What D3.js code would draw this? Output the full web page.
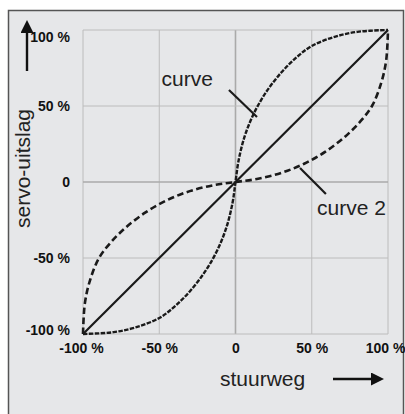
<!DOCTYPE html>
<meta charset="utf-8">
<style>
  body { margin: 0; background: #fff; }
  svg { display: block; font-family: "Liberation Sans", Arial, sans-serif; }
  .tick text { font-family: "Liberation Sans Narrow", "Liberation Sans", Arial, sans-serif; font-weight: bold; font-size: 14px; fill: #111; }
</style>
<svg width="405" height="414"></svg>
<script src="https://cdnjs.cloudflare.com/ajax/libs/d3/7.8.5/d3.min.js"></script>
<script>
// values (stuurweg %, servo-uitslag %)
var ticks = [-100, -50, 0, 50, 100];
var tickLabels = ["-100 %", "-50 %", "0", "50 %", "100 %"];
var linearX = [-100, 100];
var linearY = [-100, 100];
var curveX = [-100, -80, -65, -50, -40, -30, -20, -12, -6, -2, 0, 2, 6, 12, 20, 30, 40, 50, 65, 80, 100];
var curveY = [-100, -98.8, -95.5, -89.5, -82, -72, -59, -45, -30, -14, 0, 14, 30, 45, 59, 72, 82, 89.5, 95.5, 98.8, 100];
// curve 2 is the mirror image of curve
var curve2X = curveY.slice();
var curve2Y = curveX.slice();
var labels = ["curve", "curve 2"];
var labelPos = [[-48.5, 63], [53.5, -22]];
var pointers = [[[-4.3, 60.5], [14.1, 42.8]], [[42.3, 9.2], [59.3, -7.9]]];

var svg = d3.select("svg");

var x = d3.scaleLinear().domain([-100, 100]).range([83, 388]);
var y = d3.scaleLinear().domain([-100, 100]).range([334, 30]);

// panel
svg.append("rect")
    .attr("x", 8.5).attr("y", 10.5)
    .attr("width", 395).attr("height", 420)
    .attr("fill", "#e6e7e9")
    .attr("stroke", "#555").attr("stroke-width", 1.5);

var defs = svg.append("defs");
defs.append("marker")
    .attr("id", "head")
    .attr("viewBox", "0 0 10 10")
    .attr("refX", 0).attr("refY", 5)
    .attr("markerWidth", 18).attr("markerHeight", 13)
    .attr("markerUnits", "userSpaceOnUse")
    .attr("orient", "auto")
  .append("path")
    .attr("d", "M0,0L10,5L0,10Z")
    .attr("fill", "#111");

// grid
svg.append("g").selectAll("line")
  .data(ticks)
  .enter().append("line")
    .attr("x1", function(d) { return x(d); })
    .attr("x2", function(d) { return x(d); })
    .attr("y1", y(-100)).attr("y2", y(100))
    .attr("stroke", function(d) { return d == 0 ? "#aaa" : "#bcbcbc"; })
    .attr("stroke-width", function(d) { return d == 0 ? 1.6 : 1; });

svg.append("g").selectAll("line")
  .data(ticks)
  .enter().append("line")
    .attr("y1", function(d) { return y(d); })
    .attr("y2", function(d) { return y(d); })
    .attr("x1", x(-100)).attr("x2", x(100))
    .attr("stroke", function(d) { return d == 0 ? "#aaa" : "#bcbcbc"; })
    .attr("stroke-width", function(d) { return d == 0 ? 1.6 : 1; });

// axes (labels only)
var yAxis = svg.append("g")
    .attr("transform", "translate(" + (x(-100) - 10) + ",0)")
    .call(d3.axisLeft(y).tickValues(ticks).tickSize(0)
      .tickFormat(function(d, i) { return tickLabels[i]; }));
yAxis.select(".domain").remove();
yAxis.selectAll(".tick text")
    .attr("dy", function(d) { return d == 100 ? "0.8em" : d == -100 ? "0.05em" : "0.32em"; });

var xAxis = svg.append("g")
    .attr("transform", "translate(0," + (y(-100) + 6) + ")")
    .call(d3.axisBottom(x).tickValues(ticks).tickSize(0)
      .tickFormat(function(d, i) { return tickLabels[i]; }));
xAxis.select(".domain").remove();
xAxis.selectAll(".tick text")
    .attr("dx", function(d) { return d == 100 ? "-3" : d == -100 ? "-2" : "0"; });

// lines
var line = d3.line()
    .x(function(d) { return x(d[0]); })
    .y(function(d) { return y(d[1]); })
    .curve(d3.curveCatmullRom.alpha(0.5));

svg.append("path")
    .datum(d3.zip(linearX, linearY))
    .attr("d", line)
    .attr("fill", "none")
    .attr("stroke", "#1a1a1a")
    .attr("stroke-width", 2.2);

svg.append("path")
    .datum(d3.zip(curveX, curveY))
    .attr("d", line)
    .attr("fill", "none")
    .attr("stroke", "#1a1a1a")
    .attr("stroke-width", 2.4)
    .attr("stroke-dasharray", "4.5,1.4");

svg.append("path")
    .datum(d3.zip(curve2X, curve2Y))
    .attr("d", line)
    .attr("fill", "none")
    .attr("stroke", "#1a1a1a")
    .attr("stroke-width", 2.6)
    .attr("stroke-dasharray", "6.5,3.5");

// annotations
svg.append("g").selectAll("line")
  .data(pointers)
  .enter().append("line")
    .attr("x1", function(d) { return x(d[0][0]); })
    .attr("y1", function(d) { return y(d[0][1]); })
    .attr("x2", function(d) { return x(d[1][0]); })
    .attr("y2", function(d) { return y(d[1][1]); })
    .attr("stroke", "#1a1a1a")
    .attr("stroke-width", 2.2);

svg.append("g").selectAll("text")
  .data(labels)
  .enter().append("text")
    .attr("x", function(d, i) { return x(labelPos[i][0]); })
    .attr("y", function(d, i) { return y(labelPos[i][1]); })
    .attr("font-size", 21)
    .attr("fill", "#222")
    .text(function(d) { return d; });

// axis titles with arrows
svg.append("text")
    .attr("transform", "translate(30,228) rotate(-90)")
    .attr("font-size", 21)
    .attr("fill", "#222")
    .text("servo-uitslag");

svg.append("line")
    .attr("x1", 27).attr("y1", 71)
    .attr("x2", 27).attr("y2", 33)
    .attr("stroke", "#111").attr("stroke-width", 2.4)
    .attr("marker-end", "url(#head)");

svg.append("text")
    .attr("x", 220).attr("y", 386)
    .attr("font-size", 21)
    .attr("fill", "#222")
    .text("stuurweg");

svg.append("line")
    .attr("x1", 333).attr("y1", 379)
    .attr("x2", 371).attr("y2", 379)
    .attr("stroke", "#111").attr("stroke-width", 2.4)
    .attr("marker-end", "url(#head)");
</script>
